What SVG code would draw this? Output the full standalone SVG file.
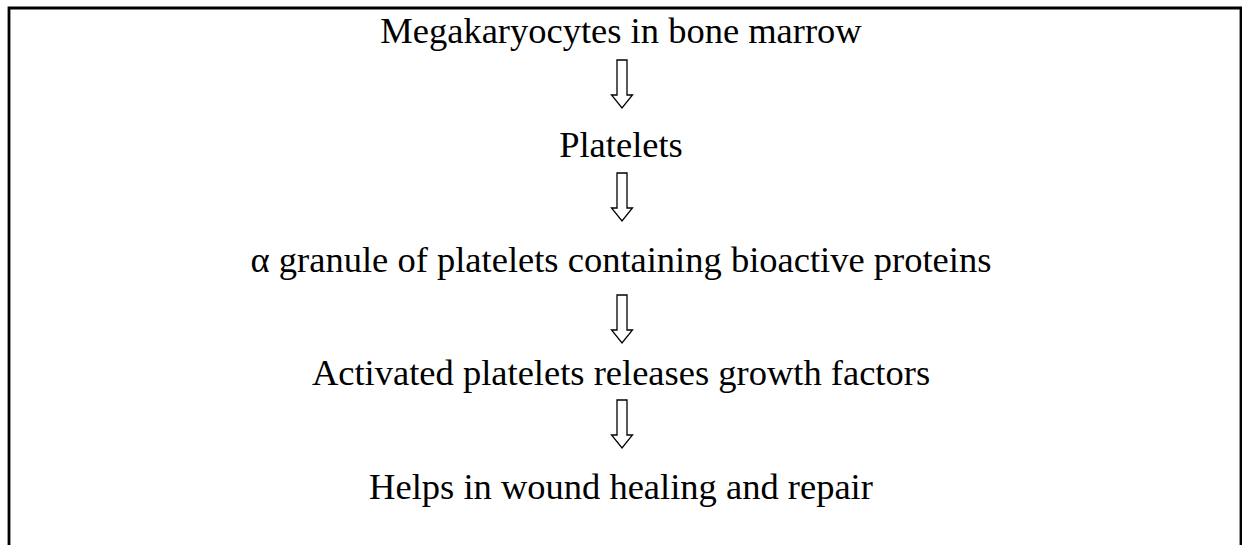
<svg xmlns="http://www.w3.org/2000/svg" width="1242" height="545" viewBox="0 0 1242 545">
<style>
.t{font-family:"Liberation Serif","Times New Roman",serif;font-size:36.5px;fill:#000;text-anchor:middle}
.a{fill:#fff;stroke:#000;stroke-width:1.3;stroke-linejoin:miter}
</style>
<defs>
<path id="arr" d="M-5,0 H5 V35 H10.5 L0,48 L-10.5,35 H-5 Z"/>
</defs>
<rect width="1242" height="545" fill="#fff"/>
<path d="M9,547 V8 H1241 V547" fill="none" stroke="#000" stroke-width="2.8"/>
<g id="n1"><text class="t" x="621" y="43">Megakaryocytes in bone marrow</text></g>
<g id="n2"><text class="t" x="621" y="157">Platelets</text></g>
<g id="n3"><text class="t" x="621" y="272">α granule of platelets containing bioactive proteins</text></g>
<g id="n4"><text class="t" x="621" y="385">Activated platelets releases growth factors</text></g>
<g id="n5"><text class="t" x="621" y="499">Helps in wound healing and repair</text></g>
<g id="connectors">
<use href="#arr" class="a" x="622" y="60"/>
<use href="#arr" class="a" x="622" y="173"/>
<use href="#arr" class="a" x="622" y="295"/>
<use href="#arr" class="a" x="622" y="400"/>
</g>
</svg>
